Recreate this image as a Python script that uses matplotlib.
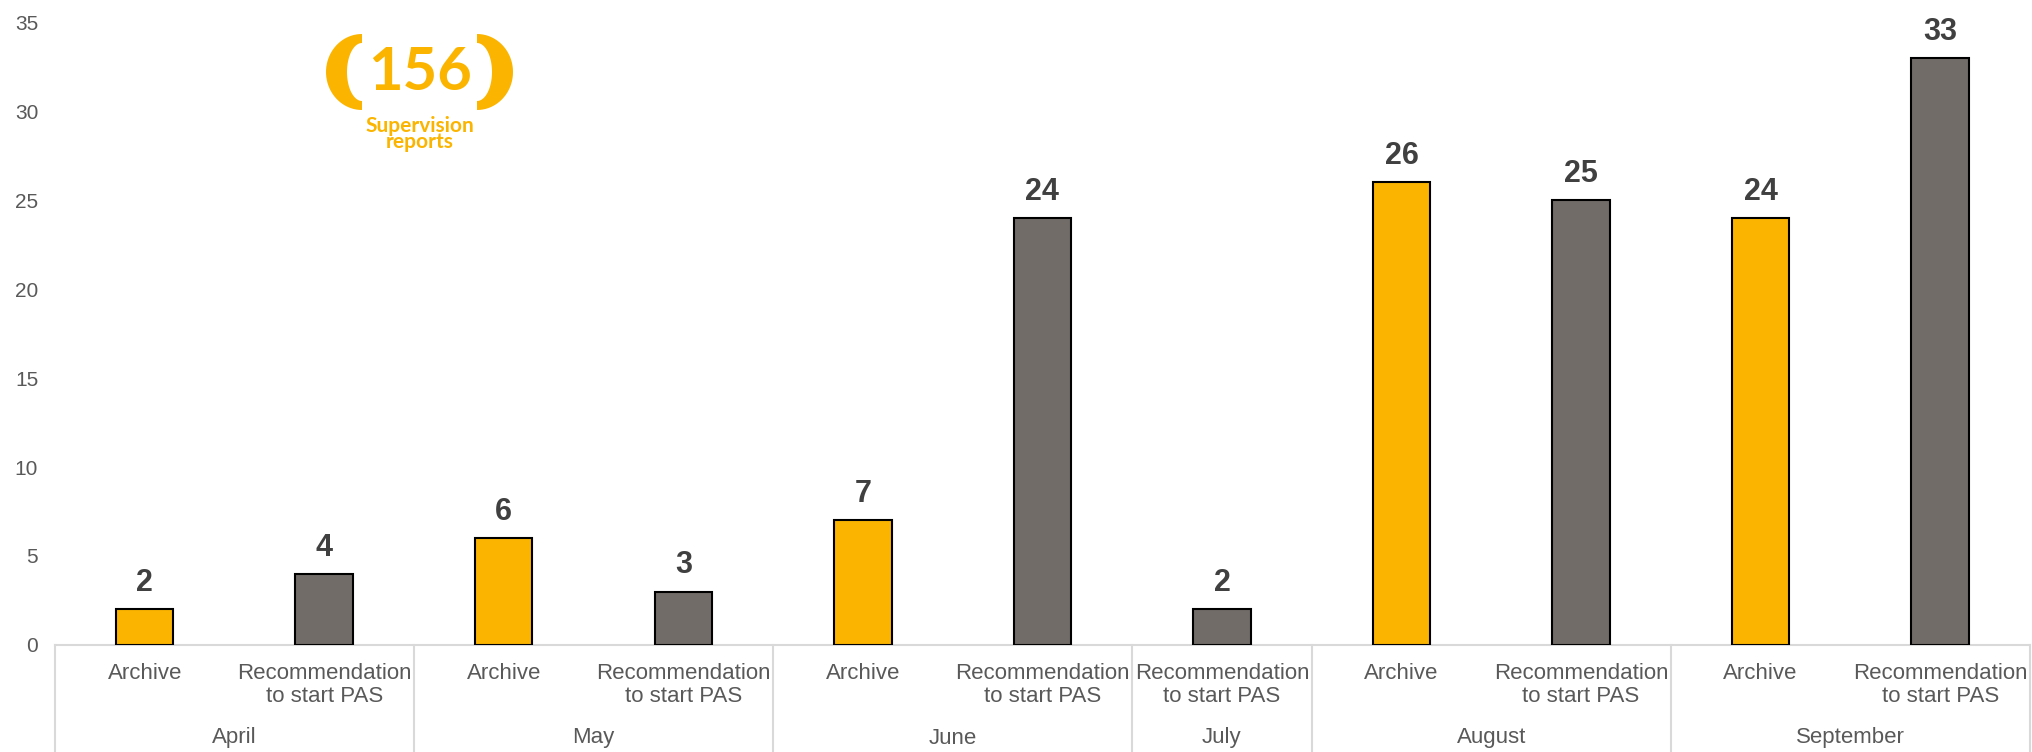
import numpy as np
import matplotlib.pyplot as plt
from matplotlib.patches import Polygon
from matplotlib.lines import Line2D
import matplotlib.transforms as mtransforms

plt.rcParams['font.family'] = ['Liberation Sans', 'DejaVu Sans']

months = ["April", "May", "June", "July", "August", "September"]
month_items = [["Archive", "Recommendation\nto start PAS"],
               ["Archive", "Recommendation\nto start PAS"],
               ["Archive", "Recommendation\nto start PAS"],
               ["Recommendation\nto start PAS"],
               ["Archive", "Recommendation\nto start PAS"],
               ["Archive", "Recommendation\nto start PAS"]]
values = [2, 4, 6, 3, 7, 24, 2, 26, 25, 24, 33]
total_reports = "156"

yellow = "#FBB500"
grey = "#716C68"

labels = [lab for items in month_items for lab in items]
colors = [yellow if lab == "Archive" else grey for lab in labels]
x = np.arange(len(values))

fig = plt.figure(figsize=(20.33, 7.52), dpi=100)
ax = fig.add_axes([0.027, 0.1423, 0.9715, 0.8284])

ax.bar(x, values, width=0.32, color=colors, edgecolor="black", linewidth=1.5, zorder=3)
for xi, v in zip(x, values):
    ax.annotate(str(v), (xi, v), xytext=(0, 8), textcoords="offset points",
                ha="center", va="bottom", fontsize=22, fontweight="bold", color="#404040")

ax.set_xlim(-0.5, len(values) - 0.5)
ax.set_ylim(0, 35)
ax.set_yticks(range(0, 36, 5))
ax.tick_params(axis="y", length=0, labelsize=15, labelcolor="#595959", pad=12)
ax.set_xticks([])
for s in ["top", "right", "left"]:
    ax.spines[s].set_visible(False)
ax.spines["bottom"].set_color("#D9D9D9")
ax.spines["bottom"].set_linewidth(1.5)

# category labels and month groups below the axis
trans = mtransforms.blended_transform_factory(ax.transData, fig.transFigure)
for xi, lab in zip(x, labels):
    ax.text(xi, 1 - 663 / 752, lab, transform=trans, ha="center", va="top",
            fontsize=16, color="#595959", linespacing=1.1)

start = 0
bounds = [-0.5]
for m, items in zip(months, month_items):
    end = start + len(items)
    ax.text((start + end - 1) / 2, 1 - 738 / 752, m, transform=trans, ha="center",
            va="center", fontsize=16, color="#595959")
    bounds.append(end - 0.5)
    start = end
for b in bounds:
    ax.add_line(Line2D([b, b], [0, 1 - 645 / 752], transform=trans, color="#D9D9D9",
                       linewidth=1.5, clip_on=False))

# logo
lax = fig.add_axes([320 / 2033, 1 - 150 / 752, 200 / 2033, 120 / 752])
lax.set_xlim(320, 520)
lax.set_ylim(150, 30)
lax.axis("off")
t = np.linspace(np.pi / 2, 3 * np.pi / 2, 60)
cy = 72
for cx, sgn in [(362, 1), (477, -1)]:
    outer = np.column_stack([cx + sgn * 36 * np.cos(t), cy - 38 * np.sin(t)])
    inner = np.column_stack([cx + sgn * 15 * np.cos(t[::-1]), cy - 29 * np.sin(t[::-1])])
    lax.add_patch(Polygon(np.vstack([outer, inner]), closed=True, color=yellow, lw=0))
lax.text(420, 73, total_reports, ha="center", va="center", fontsize=43,
         fontweight="bold", color=yellow, family=["Lato", "DejaVu Sans"])
lax.text(420, 126, "Supervision", ha="center", va="center", fontsize=15,
         fontweight="bold", color=yellow, family=["Lato", "DejaVu Sans"])
lax.text(420, 142, "reports", ha="center", va="center", fontsize=15,
         fontweight="bold", color=yellow, family=["Lato", "DejaVu Sans"])

fig.savefig("out.png", dpi=100)
